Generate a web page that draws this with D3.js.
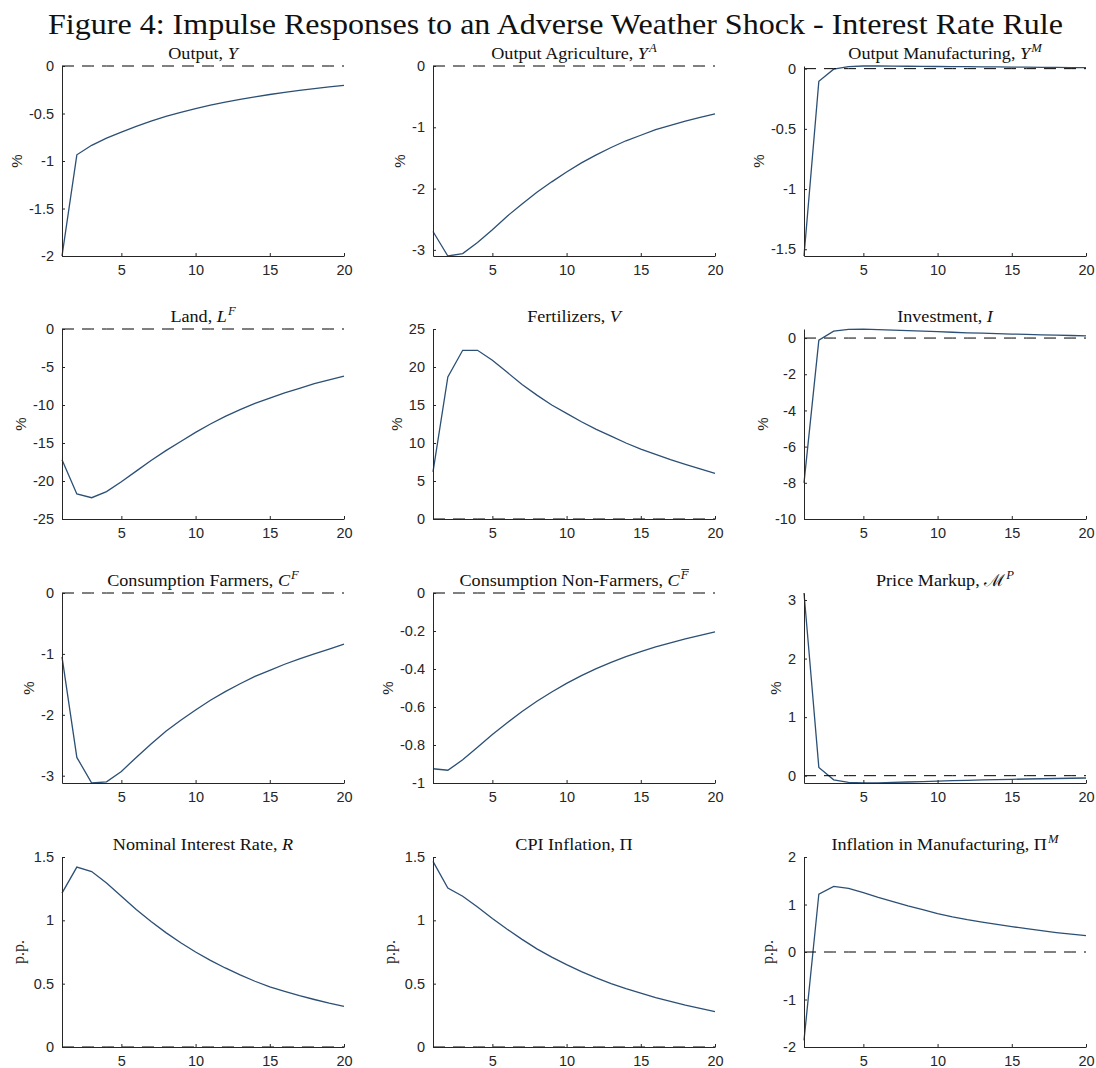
<!DOCTYPE html>
<html>
<head>
<meta charset="utf-8">
<script src="https://cdn.jsdelivr.net/npm/d3@7"></script>
<style>
  body { margin: 0; background: #fff; }
</style>
</head>
<body>
<div id="chart"></div>
<script>
// horizon of the impulse responses
const periods = d3.range(1, 21)

// responses
const outputY = [-2.0, -0.935, -0.835, -0.76, -0.695, -0.635, -0.58, -0.53, -0.487, -0.448, -0.413, -0.381, -0.352, -0.325, -0.30, -0.278, -0.257, -0.238, -0.22, -0.203]
const outputAgri = [-2.7, -3.1, -3.06, -2.88, -2.67, -2.45, -2.25, -2.06, -1.89, -1.73, -1.58, -1.45, -1.33, -1.22, -1.13, -1.04, -0.97, -0.9, -0.84, -0.78]
const outputManu = [-1.556, -0.105, -0.004, 0.017, 0.022, 0.022, 0.021, 0.02, 0.019, 0.018, 0.017, 0.016, 0.015, 0.014, 0.013, 0.012, 0.011, 0.01, 0.009, 0.008]
const land = [-17.2, -21.7, -22.2, -21.4, -20.1, -18.7, -17.3, -16.0, -14.8, -13.6, -12.5, -11.5, -10.6, -9.8, -9.1, -8.4, -7.8, -7.2, -6.7, -6.2]
const fertilizers = [6.2, 18.7, 22.2, 22.2, 20.9, 19.3, 17.7, 16.3, 15.0, 13.9, 12.8, 11.8, 10.9, 10.0, 9.2, 8.5, 7.8, 7.2, 6.6, 6.0]
const investment = [-8.0, -0.12, 0.38, 0.48, 0.49, 0.47, 0.44, 0.41, 0.38, 0.35, 0.32, 0.29, 0.27, 0.24, 0.22, 0.2, 0.18, 0.16, 0.14, 0.12]
const consFarmers = [-1.05, -2.7, -3.12, -3.1, -2.93, -2.7, -2.48, -2.27, -2.09, -1.92, -1.76, -1.62, -1.49, -1.37, -1.27, -1.17, -1.08, -1.0, -0.92, -0.84]
const consNonFarmers = [-0.925, -0.933, -0.878, -0.812, -0.745, -0.683, -0.624, -0.57, -0.521, -0.476, -0.435, -0.398, -0.365, -0.335, -0.308, -0.284, -0.262, -0.242, -0.223, -0.205]
const priceMarkup = [3.12, 0.14, -0.07, -0.115, -0.125, -0.122, -0.116, -0.108, -0.1, -0.093, -0.086, -0.079, -0.073, -0.067, -0.062, -0.057, -0.052, -0.048, -0.044, -0.04]
const nominalRate = [1.215, 1.42, 1.385, 1.295, 1.19, 1.085, 0.99, 0.903, 0.823, 0.75, 0.684, 0.624, 0.569, 0.519, 0.475, 0.44, 0.406, 0.375, 0.346, 0.32]
const cpiInflation = [1.465, 1.255, 1.19, 1.105, 1.015, 0.93, 0.85, 0.775, 0.71, 0.65, 0.595, 0.545, 0.5, 0.46, 0.425, 0.39, 0.36, 0.33, 0.305, 0.28]
const manuInflation = [-1.86, 1.22, 1.38, 1.34, 1.25, 1.15, 1.06, 0.97, 0.89, 0.81, 0.74, 0.68, 0.63, 0.58, 0.535, 0.49, 0.45, 0.41, 0.375, 0.345]

// axis limits and ticks per panel
const xTicks = [5, 10, 15, 20]
const yDomains = [
  [-2, 0], [-3.1, 0], [-1.556, 0.022],
  [-25, 0], [0, 25], [-10, 0.5],
  [-3.12, 0], [-1, 0], [-0.125, 3.12],
  [0, 1.5], [0, 1.5], [-2, 2]
]
const yTicks = [
  [-2, -1.5, -1, -0.5, 0], [-3, -2, -1, 0], [-1.5, -1, -0.5, 0],
  [-25, -20, -15, -10, -5, 0], [0, 5, 10, 15, 20, 25], [-10, -8, -6, -4, -2, 0],
  [-3, -2, -1, 0], [-1, -0.8, -0.6, -0.4, -0.2, 0], [0, 1, 2, 3],
  [0, 0.5, 1, 1.5], [0, 0.5, 1, 1.5], [-2, -1, 0, 1, 2]
]
const units = ["%", "%", "%", "%", "%", "%", "%", "%", "%", "p.p.", "p.p.", "p.p."]

// titles: [text, style] with i = italic, s = superscript, o = overline
const titles = [
  [["Output, "], ["Y", "i"]],
  [["Output Agriculture, "], ["Y", "i"], ["A", "is"]],
  [["Output Manufacturing, "], ["Y", "i"], ["M", "is"]],
  [["Land, "], ["L", "i"], ["F", "is"]],
  [["Fertilizers, "], ["V", "i"]],
  [["Investment, "], ["I", "i"]],
  [["Consumption Farmers, "], ["C", "i"], ["F", "is"]],
  [["Consumption Non-Farmers, "], ["C", "i"], ["F", "iso"]],
  [["Price Markup, "], ["\u2133", ""], ["P", "is"]],
  [["Nominal Interest Rate, "], ["R", "i"]],
  [["CPI Inflation, "], ["\u03A0", ""]],
  [["Inflation in Manufacturing, "], ["\u03A0", ""], ["M", "is"]]
]
const series = [outputY, outputAgri, outputManu, land, fertilizers, investment,
  consFarmers, consNonFarmers, priceMarkup, nominalRate, cpiInflation, manuInflation]

const colLeft = [62, 433, 804],
    rowTop = [66, 329, 593, 857],
    plotW = 282,
    plotH = 190

const axisColor = "#262626",
    lineColor = "#2c4f75"

const svg = d3.select("#chart")
  .append("svg")
    .attr("width", 1096)
    .attr("height", 1068)
    .style("background", "#fff")

svg.append("text")
  .attr("x", 555.5)
  .attr("y", 34)
  .attr("text-anchor", "middle")
  .attr("font-family", "'Liberation Serif', serif")
  .attr("font-size", 30)
  .attr("textLength", 1015)
  .attr("lengthAdjust", "spacingAndGlyphs")
  .attr("fill", "#111")
  .text("Figure 4: Impulse Responses to an Adverse Weather Shock - Interest Rate Rule")


function draw_panel(i) {
  const left = colLeft[i % 3], top = rowTop[Math.floor(i / 3)]
  const g = svg.append("g")
    .attr("transform", `translate(${left},${top})`)

  const x = d3.scaleLinear().domain([1, 20]).range([0, plotW])
  const y = d3.scaleLinear().domain(yDomains[i]).range([plotH, 0])

  const line = d3.line()
    .x((d, k) => x(periods[k]))
    .y(d => y(d))

  g.append("path")
    .datum(series[i])
    .attr("fill", "none")
    .attr("stroke", lineColor)
    .attr("stroke-width", 1.3)
    .attr("d", line)

  // steady state reference
  g.append("path")
    .datum(periods.map(() => 0))
    .attr("fill", "none")
    .attr("stroke", "#000")
    .attr("stroke-width", 1)
    .attr("stroke-dasharray", "12,8")
    .attr("d", line)

  const xg = g.append("g")
    .attr("transform", `translate(0,${plotH})`)
    .call(d3.axisBottom(x).tickValues(xTicks).tickSizeInner(-3).tickSizeOuter(0).tickPadding(9))
  const yg = g.append("g")
    .call(d3.axisLeft(y).tickValues(yTicks[i]).tickSizeInner(-3).tickSizeOuter(0).tickPadding(8)
      .tickFormat(d => String(d)))

  for (const ax of [xg, yg]) {
    ax.attr("font-family", "'Liberation Sans', Arial, sans-serif").attr("font-size", 14.5)
    ax.select(".domain").attr("stroke", axisColor)
    ax.selectAll(".tick line").attr("stroke", axisColor)
    ax.selectAll(".tick text").attr("fill", axisColor)
  }

  // y label left of the tick labels
  const bb = yg.node().getBBox()
  const isPct = units[i] === "%"
  const lx = bb.x - (isPct ? 7 : 10)
  g.append("text")
    .attr("transform", `translate(${lx},${plotH / 2}) rotate(-90)`)
    .attr("text-anchor", "middle")
    .attr("font-family", isPct ? "'Liberation Sans', Arial, sans-serif" : "'Liberation Serif', serif")
    .attr("font-size", isPct ? 15 : 16)
    .attr("fill", axisColor)
    .text(units[i])

  // panel title, stretched a little to the width of the original serif
  const tg = g.append("g")
    .attr("transform", `translate(${plotW / 2},-7.5) scale(1.1,1)`)
  const t = tg.append("text")
    .attr("text-anchor", "middle")
    .attr("font-family", "'Liberation Serif', serif")
    .attr("font-size", 16.5)
    .attr("fill", "#111")
  for (const [txt, st = ""] of titles[i]) {
    const ts = t.append("tspan").text(txt)
    if (st.includes("i")) ts.attr("font-style", "italic")
    if (st.includes("s")) ts.attr("font-size", 11.5).attr("dy", -6.5).attr("dx", 1)
    if (st.includes("o")) {
      const box = ts.node().getBBox()
      tg.append("line")
        .attr("x1", box.x + 1.5).attr("x2", box.x + box.width)
        .attr("y1", box.y + 1).attr("y2", box.y + 1)
        .attr("stroke", "#111").attr("stroke-width", 0.8)
    }
  }
}

for (let i = 0; i < 12; i++) draw_panel(i)
</script>
</body>
</html>
